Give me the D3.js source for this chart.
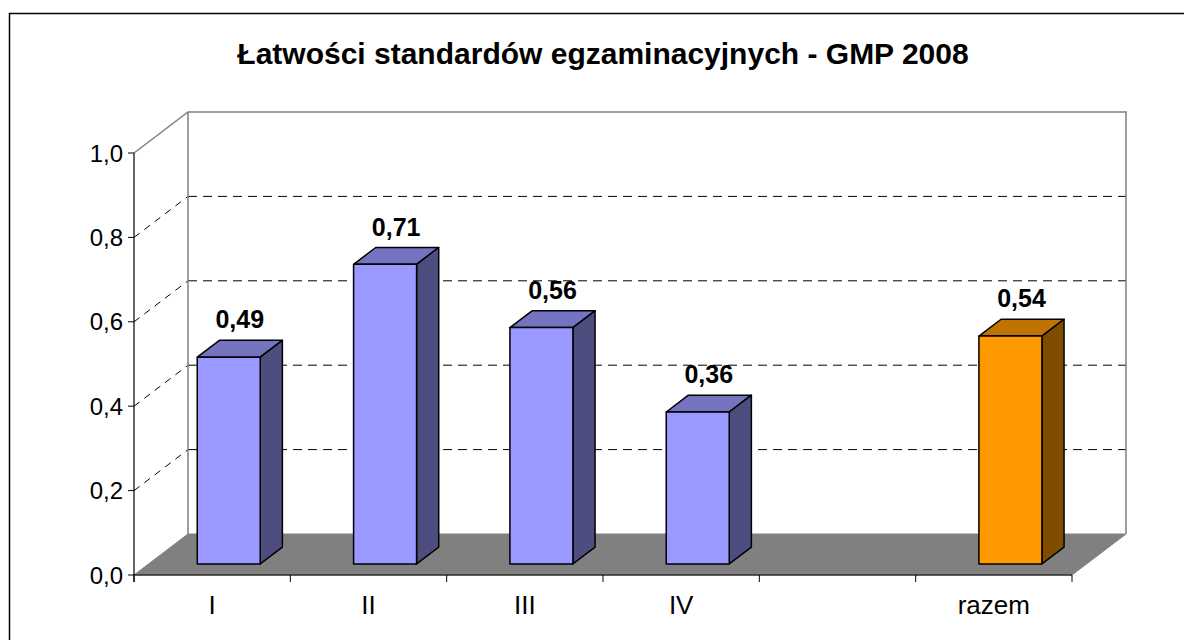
<!DOCTYPE html>
<html>
<head>
<meta charset="utf-8">
<script src="https://cdn.jsdelivr.net/npm/d3@7"></script>
<style>
  body { margin: 0; background: #fff; }
  text { font-family: "Liberation Sans", Arial, sans-serif; }
</style>
</head>
<body>
<div class="chart"></div>
<script>
var title = 'Łatwości standardów egzaminacyjnych - GMP 2008';
var categories = ['I', 'II', 'III', 'IV', '', 'razem'];
var values = [0.49, 0.71, 0.56, 0.36, null, 0.54];
var yTicks = [0, 0.2, 0.4, 0.6, 0.8, 1.0];

var width = 1184;
var height = 640;
var svg = d3.select('.chart').append('svg').attr('width', width).attr('height', height);

// depth of the 3d box
var depthX = 54, depthY = -41;
var z0 = 0.27, z1 = 0.68;

var x = d3.scaleBand().domain(d3.range(categories.length)).range([134, 1072]);
var y = d3.scaleLinear().domain([0, 1]).range([575, 153]);
var loc = d3.formatLocale({decimal: ',', thousands: ' ', grouping: [3], currency: ['', '']});
var fmt1 = loc.format('.1f');
var fmt2 = loc.format('.2f');

function pt(px, py, z) { return [px + z * depthX, py + z * depthY]; }
function poly(pts) { return pts.map(function(p){ return p.join(','); }).join(' '); }

// outer frame
svg.append('rect').attr('x', 9.5).attr('y', 13.5).attr('width', 1200).attr('height', 700)
  .attr('fill', 'none').attr('stroke', '#000').attr('stroke-width', 1.5);

svg.append('text').attr('x', 603).attr('y', 64).attr('text-anchor', 'middle')
  .attr('font-size', 30).attr('font-weight', 'bold').text(title);

var x0 = x.range()[0], x1 = x.range()[1];

// floor
svg.append('polygon')
  .attr('points', poly([pt(x0, y(0), 0), pt(x0, y(0), 1), pt(x1, y(0), 1), pt(x1, y(0), 0)]))
  .attr('fill', '#808080').attr('stroke', '#808080').attr('stroke-width', 1);

// back wall gridlines
svg.selectAll('.grid').data(yTicks.filter(function(d){ return d > 0 && d < 1; })).enter()
  .append('line').attr('class', 'grid')
  .attr('x1', x0 + depthX).attr('x2', x1 + depthX)
  .attr('y1', function(d){ return y(d) + depthY; }).attr('y2', function(d){ return y(d) + depthY; })
  .attr('stroke', '#000').attr('stroke-dasharray', '9,6');

// side wall gridlines
svg.selectAll('.sgrid').data(yTicks.filter(function(d){ return d > 0 && d < 1; })).enter()
  .append('line').attr('class', 'sgrid')
  .attr('x1', x0).attr('x2', x0 + depthX)
  .attr('y1', function(d){ return y(d); }).attr('y2', function(d){ return y(d) + depthY; })
  .attr('stroke', '#000').attr('stroke-dasharray', '7,6');

// wall edges
var wall = d3.path();
wall.moveTo(x0, y(1));
wall.lineTo(x0 + depthX, y(1) + depthY);
wall.lineTo(x1 + depthX, y(1) + depthY);
wall.lineTo(x1 + depthX, y(0) + depthY);
wall.moveTo(x0 + depthX, y(1) + depthY);
wall.lineTo(x0 + depthX, y(0) + depthY);
svg.append('path').attr('d', wall.toString()).attr('fill', 'none')
  .attr('stroke', '#808080').attr('stroke-width', 1.5);

// axes
svg.append('line').attr('x1', x0).attr('x2', x0).attr('y1', y(1)).attr('y2', y(0) + 7)
  .attr('stroke', '#000').attr('stroke-width', 1.2);
svg.append('line').attr('x1', x0).attr('x2', x1).attr('y1', y(0)).attr('y2', y(0))
  .attr('stroke', '#000').attr('stroke-width', 1.2);

svg.selectAll('.ytick').data(yTicks).enter().append('line')
  .attr('x1', x0 - 6).attr('x2', x0).attr('y1', function(d){ return y(d); }).attr('y2', function(d){ return y(d); })
  .attr('stroke', '#000');
svg.selectAll('.ylab').data(yTicks).enter().append('text')
  .attr('x', x0 - 11).attr('y', function(d){ return y(d) + 8.5; })
  .attr('text-anchor', 'end').attr('font-size', 24).text(function(d){ return fmt1(d); });

svg.selectAll('.xtick').data(d3.range(categories.length + 1)).enter().append('line')
  .attr('x1', function(i){ return x0 + i * x.step(); }).attr('x2', function(i){ return x0 + i * x.step(); })
  .attr('y1', y(0)).attr('y2', y(0) + 7).attr('stroke', '#000');
svg.selectAll('.xlab').data(categories).enter().append('text')
  .attr('x', function(d, i){ return x(i) + x.bandwidth() / 2; }).attr('y', 614)
  .attr('text-anchor', 'middle').attr('font-size', 26).text(function(d){ return d; });

// bars
var bw = 63;
var bars = svg.selectAll('.bar').data(values.map(function(v, i){ return {v: v, i: i, c: categories[i]}; })
  .filter(function(d){ return d.v != null; })).enter().append('g').attr('class', 'bar');

function colors(d) {
  if (d.c == 'razem') return ['#FF9900', '#BF7300', '#804D00'];
  return ['#9999FF', '#7373BF', '#4D4D80'];
}
function left(d) { return x(d.i) + x.bandwidth() / 2 - bw / 2 + 2; }

bars.append('polygon').attr('points', function(d){
  var l = left(d), r = l + bw;
  return poly([pt(l, y(d.v), z0), pt(l, y(d.v), z1), pt(r, y(d.v), z1), pt(r, y(d.v), z0)]);
}).attr('fill', function(d){ return colors(d)[1]; });
bars.append('polygon').attr('points', function(d){
  var r = left(d) + bw;
  return poly([pt(r, y(0), z0), pt(r, y(d.v), z0), pt(r, y(d.v), z1), pt(r, y(0), z1)]);
}).attr('fill', function(d){ return colors(d)[2]; });
bars.append('polygon').attr('points', function(d){
  var l = left(d), r = l + bw;
  return poly([pt(l, y(0), z0), pt(l, y(d.v), z0), pt(r, y(d.v), z0), pt(r, y(0), z0)]);
}).attr('fill', function(d){ return colors(d)[0]; });
bars.selectAll('polygon').attr('stroke', '#000').attr('stroke-width', 1.5).attr('stroke-linejoin', 'round');

bars.append('text').attr('font-size', 25).attr('font-weight', 'bold').attr('text-anchor', 'middle')
  .attr('x', function(d){ return left(d) + bw / 2 + (z0 + z1) / 2 * depthX; })
  .attr('y', function(d){ return y(d.v) + z1 * depthY - 12; })
  .text(function(d){ return fmt2(d.v); });
</script>
</body>
</html>
